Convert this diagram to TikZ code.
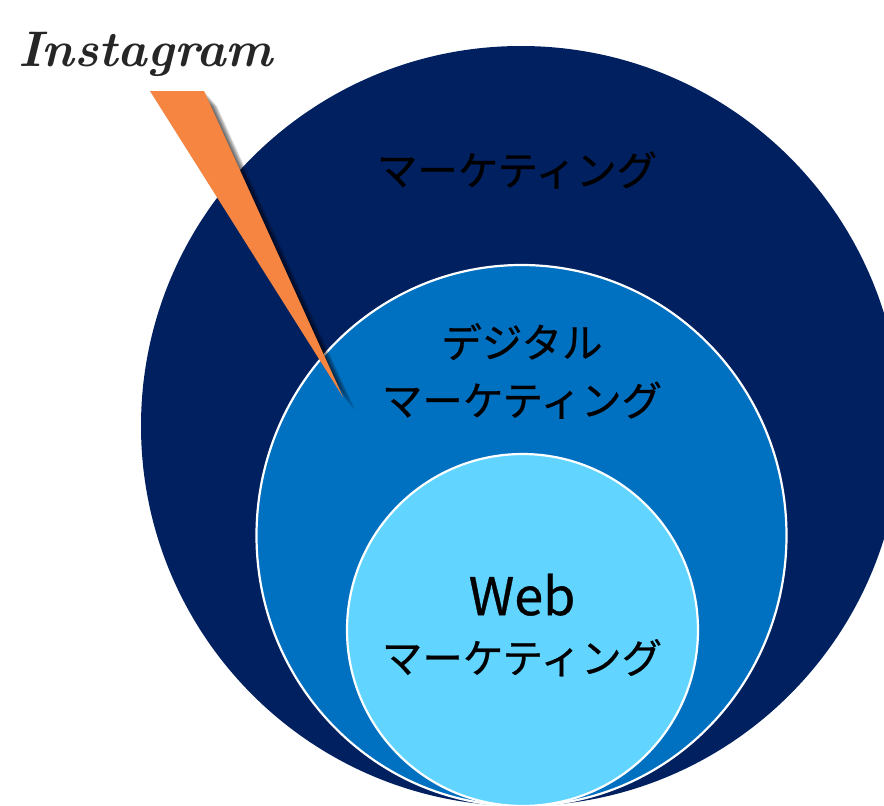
\documentclass[tikz,border=0pt]{standalone}
\usepackage{fontspec}
\usetikzlibrary{shapes, shapes.geometric}
\newfontfamily\jpfont{Noto Sans CJK JP}[FakeBold=0.6]
\definecolor{navy}{HTML}{002060}
\definecolor{midblue}{HTML}{0070C0}
\definecolor{skyblue}{HTML}{61D5FF}
\definecolor{pinorange}{HTML}{F58540}
\definecolor{logogray}{HTML}{262626}

\begin{document}
\begin{tikzpicture}[x=1pt, y=-1pt,
    ring/.style={ellipse, inner sep=0pt, outer sep=0pt},
    jplabel/.style={align=center, text=black, font=\jpfont\fontsize{40.5}{58}\selectfont}]
  \useasboundingbox (0,0) rectangle (884,806);
  \clip (0,0) rectangle (884,806);

  % rings
  \node[ring, fill=navy, minimum width=760pt, minimum height=760pt] (outer) at (521,426) {};
  \node[ring, fill=midblue, draw=white, line width=2.2pt, minimum width=530pt, minimum height=541pt] (middle) at (521.5,535.5) {};
  \node[ring, fill=skyblue, draw=white, line width=2.2pt, minimum width=351pt, minimum height=352pt] (inner) at (522.5,630) {};

  % callout with soft shadow
  \coordinate (pinl) at (150,91);
  \coordinate (pinr) at (204,91);
  \coordinate (pintip) at (343,397);
  \foreach \d in {0,2,...,16}
    \fill[black, opacity=0.1]
      ([xshift=\d*0.8pt, yshift=-\d*0.9pt]pinl) -- ([xshift=\d*0.8pt, yshift=-\d*0.9pt]pinr)
      -- ([xshift=\d*0.8pt, yshift=-\d*0.9pt]pintip) -- cycle;
  \fill[pinorange] (pinl) -- (pinr) -- (pintip) -- cycle;

  \node[anchor=base west, inner sep=0pt, text=logogray, font=\bfseries\itshape\fontsize{50}{50}\selectfont] (logo) at (18,66) {Instagram};

  \node[jplabel] (mk) at (517,170) {マーケティング};
  \node[jplabel] (dmk) at (522,371) {デジタル\\マーケティング};
  \node[jplabel] (wmk) at (522,625) {{\fontsize{52}{58}\selectfont Web}\\マーケティング};
\end{tikzpicture}
\end{document}
